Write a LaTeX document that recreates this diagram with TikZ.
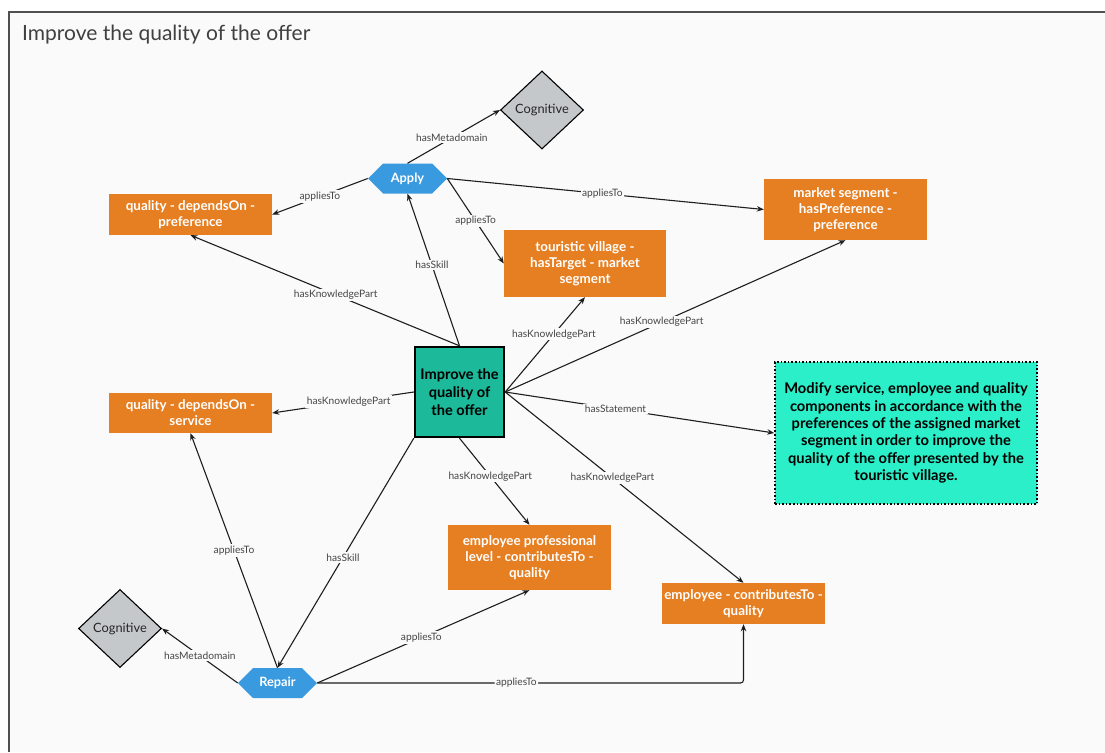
\documentclass[tikz,border=0pt]{standalone}
\usepackage{fontspec}
\setmainfont{Lato}
\usetikzlibrary{shapes.geometric,shapes.symbols,arrows.meta}

\definecolor{canvas}{HTML}{FAFAFA}
\definecolor{framecol}{HTML}{505050}
\definecolor{orangebox}{HTML}{E67E22}
\definecolor{hexblue}{HTML}{3A9AE0}
\definecolor{metagray}{HTML}{C5C8CB}
\definecolor{goalteal}{HTML}{1CB99A}
\definecolor{stmtgreen}{HTML}{2AEFC8}
\definecolor{linkcol}{HTML}{1E1E1E}
\definecolor{labelgray}{HTML}{454545}
\definecolor{titlegray}{HTML}{404040}

\begin{document}
\begin{tikzpicture}[x=1pt,y=-1pt,
  box/.style={fill=orangebox, text=white, font=\bfseries\fontsize{13.4}{16}\selectfont,
    align=center, inner sep=0pt, minimum width=163pt},
  hexnode/.style={shape=signal, signal to=east and west, signal pointer angle=90,
    fill=hexblue, text=white, font=\bfseries\fontsize{12.8}{14}\selectfont,
    minimum width=79pt, minimum height=30pt, inner sep=0pt},
  metanode/.style={diamond, draw=black, line width=1.1pt, fill=metagray,
    font=\fontsize{12.8}{14}\selectfont, text=black!85,
    minimum width=83pt, minimum height=78pt, inner sep=0pt},
  goal/.style={draw=black, line width=2.4pt, fill=goalteal, text=black,
    font=\bfseries\fontsize{14.6}{18}\selectfont, align=center,
    minimum width=89pt, minimum height=90pt, inner sep=0pt},
  statement/.style={draw=black, line width=1.6pt, dotted, fill=stmtgreen, text=black,
    font=\bfseries\fontsize{14.7}{17.4}\selectfont, align=center,
    minimum width=262pt, minimum height=142pt, inner sep=0pt},
  lbl/.style={fill=canvas, font=\fontsize{10.2}{12}\selectfont, text=labelgray,
    inner sep=1.5pt},
  link/.style={draw=linkcol, line width=1.1pt, -{Stealth[length=7pt,width=5.5pt]}},
]
% page and canvas
\useasboundingbox (0,0) rectangle (1105,752);
\fill[white] (0,0) rectangle (1105,752);
\fill[canvas] (9,12) rectangle (1105,752);
\draw[framecol, line width=1.2pt] (9,752) -- (9,12) -- (1105,12);
\node[anchor=base west, font=\fontsize{21}{24}\selectfont, text=titlegray, inner sep=0pt]
  (title) at (22,41) {Improve the quality of the offer};

% skills and metadomains
\node[metanode] (cogT) at (542,110) {Cognitive};
\node[metanode] (cogB) at (120,628.5) {Cognitive};
\node[hexnode] (apply) at (407.5,178.5) {Apply};
\node[hexnode] (repair) at (277.5,683) {Repair};

% knowledge parts
\node[box, minimum height=41pt] (qpref) at (190.5,214.5) {quality - dependsOn -\\preference};
\node[box, minimum height=61pt] (mseg) at (845.5,209.5) {market segment -\\hasPreference -\\preference};
\node[box, minimum height=67pt, minimum width=162pt] (tour) at (585,263.5) {touristic village -\\hasTarget - market\\segment};
\node[box, minimum height=40pt] (qserv) at (190.5,413) {quality - dependsOn -\\service};
\node[box, minimum height=65pt] (eprof) at (529.5,557.5) {employee professional\\level - contributesTo -\\quality};
\node[box, minimum height=41pt] (econ) at (743.5,603.5) {employee - contributesTo -\\quality};

% goal and its statement
\node[goal] (imp) at (459.5,392) {Improve the\\quality of\\the offer};
\node[statement] (stmt) at (906,433) {Modify service, employee and quality\\components in accordance with the\\preferences of the assigned market\\segment in order to improve the\\quality of the offer presented by the\\touristic village.};

% relations of Apply
\draw[link] (apply.north) -- node[lbl, pos=0.48] {hasMetadomain} (cogT.west);
\draw[link] (apply.west) -- node[lbl, pos=0.5] {appliesTo} (qpref.east);
\draw[link] (apply.east) -- node[lbl, pos=0.49] {appliesTo} (mseg.west);
\draw[link] (apply.east) -- node[lbl, pos=0.5] {appliesTo} (tour.west);

% relations of the goal
\draw[link] (imp.north) -- node[lbl, pos=0.53] {hasSkill} (apply.south);
\draw[link] (imp.north) -- node[lbl, pos=0.46] {hasKnowledgePart} (qpref.south);
\draw[link] (imp.east) -- node[lbl, pos=0.61] {hasKnowledgePart} (tour.south);
\draw[link] (imp.east) -- node[lbl, pos=0.46] {hasKnowledgePart} (mseg.south);
\draw[link] (imp.west) -- node[lbl, pos=0.46] {hasKnowledgePart} (qserv.east);
\draw[link] (imp.east) -- node[lbl, pos=0.41] {hasStatement} (stmt.west);
\draw[link] (imp.south) -- node[lbl, pos=0.44] {hasKnowledgePart} (eprof.north);
\draw[link] (imp.east) -- node[lbl, pos=0.45] {hasKnowledgePart} (econ.north);
\draw[link] (imp.south west) -- node[lbl, pos=0.52] {hasSkill} (repair.north);

% relations of Repair
\draw[link] (repair.north) -- node[lbl, pos=0.5] {appliesTo} (qserv.south);
\draw[link] (repair.west) -- node[lbl, pos=0.5] {hasMetadomain} (cogB.east);
\draw[link] (repair.east) -- node[lbl, pos=0.49] {appliesTo} (eprof.south);
\draw[link, rounded corners=3pt] (repair.east) -- node[lbl, pos=0.467] {appliesTo}
  (repair.east -| econ.south) -- (econ.south);
\end{tikzpicture}
\end{document}
